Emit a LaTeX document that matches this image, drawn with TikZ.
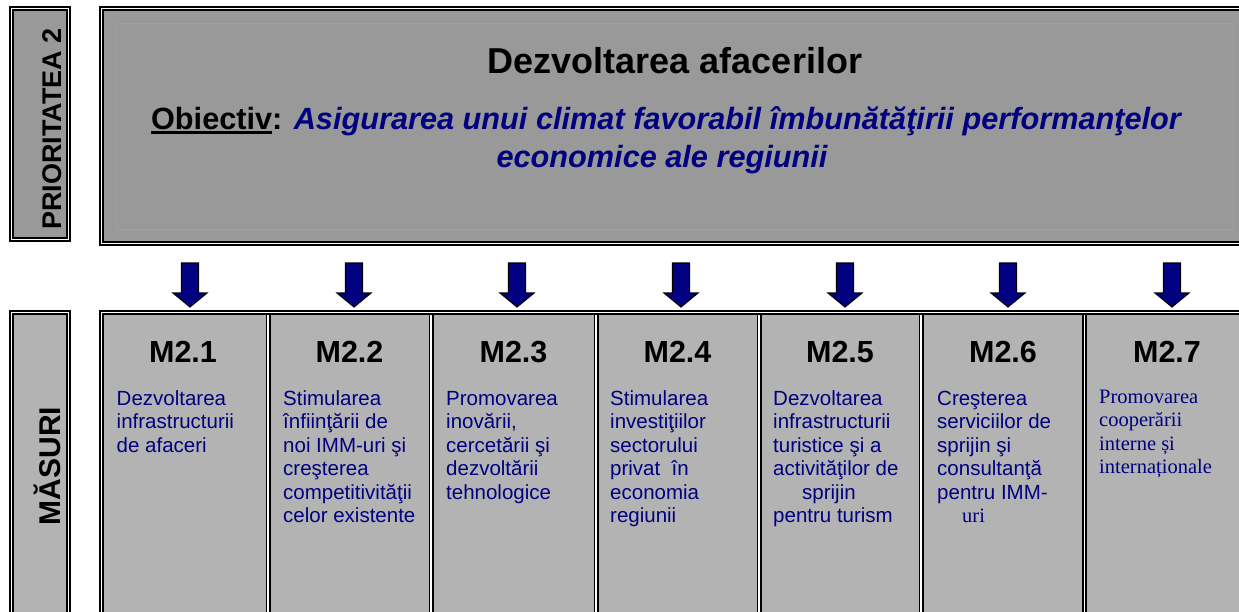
\documentclass[tikz,border=0pt]{standalone}
\usepackage{fontspec}
\setmainfont{Liberation Sans}
\newfontfamily\tnr{Liberation Serif}
\definecolor{hdrgray}{HTML}{999999}
\definecolor{mgray}{HTML}{B3B3B3}
\definecolor{navy}{HTML}{000080}
\definecolor{bevel}{HTML}{A0A0A0}
\newcommand{\myul}[1]{\setbox0\hbox{#1}\rlap{\rule[-4.5pt]{\wd0}{2.4pt}}\box0}
\newcommand{\mbody}[1]{\parbox[t]{160pt}{\fontsize{20.5}{23.5}\selectfont\raggedright #1}}
\begin{document}
\begin{tikzpicture}[x=1pt,y=-1pt,
  dbl/.style={draw=black, line width=1.8pt, double=white, double distance=1.4pt},
  hdrtext/.style={anchor=base, inner sep=0pt},
  mtitle/.style={anchor=base, inner sep=0pt, font=\bfseries\fontsize{30.5}{30.5}\selectfont},
  mtext/.style={anchor=base west, inner sep=0pt, text=navy},
  sidelabel/.style={anchor=base, rotate=90, inner sep=0pt},
  blockarrow/.style={fill=navy, draw=black, line width=1.1pt, line join=miter}
]
\useasboundingbox (0,0) rectangle (1239,611);
\fill[white] (0,0) rectangle (1239,611);
\clip (0,0) rectangle (1239,611);

% ---------- top band ----------
\node[draw=none, fill=hdrgray, minimum width=57.4pt, minimum height=231.4pt, inner sep=0pt] (prioBox) at (40,124) {};
\draw[dbl] (11.3,8.3) rectangle (68.7,239.7);
\node[sidelabel, font=\bfseries\fontsize{27}{27}\selectfont] (prio) at (61.7,129) {PRIORITATEA 2};

\node[fill=hdrgray, minimum width=1160pt, minimum height=235pt, inner sep=0pt] (hdr) at (681.3,125.8) {};
\draw[bevel, line width=0.7pt] (116,23.3) rectangle (1233,229.3);
\draw[dbl] (101.3,8.3) rectangle (1262,243.3);

\node[hdrtext, font=\bfseries\fontsize{36}{36}\selectfont] (title) at (675,73) {Dezvoltarea afacerilor};
\node[hdrtext, font=\bfseries\fontsize{30.7}{30.7}\selectfont] (obj1) at (666,129)
  {\myul{Obiectiv}: \textcolor{navy}{\itshape Asigurarea unui climat favorabil îmbunătăţirii performanţelor}};
\node[hdrtext, font=\bfseries\itshape\fontsize{30.7}{30.7}\selectfont, text=navy] (obj2) at (662,167)
  {economice ale regiunii};

% ---------- arrows ----------
\foreach \c in {190,354,517,681,845,1008,1172}{
  \draw[blockarrow] (\c-8.5,263) -- (\c+8.5,263) -- (\c+8.5,293) -- (\c+17,293)
    -- (\c,307) -- (\c-17,293) -- (\c-8.5,293) -- cycle;
}

% ---------- measures band ----------
\node[fill=mgray, minimum width=57.4pt, minimum height=330pt, inner sep=0pt] (masBox) at (40,477.7) {};
\draw[dbl] (11.3,312.7) rectangle (68.7,650);
\node[sidelabel, font=\bfseries\fontsize{30}{30}\selectfont] (masuri) at (60,466) {MĂSURI};

\node[fill=mgray, minimum width=1160pt, minimum height=330pt, inner sep=0pt] (row) at (681.3,477.7) {};
\foreach \s in {268,431,596,759,921,1084.5}{
  \draw[dbl] (\s,313) -- (\s,650);
}
\draw[dbl] (101.3,312.7) rectangle (1262,650);

\node[mtitle] (t1) at (183,362) {M2.1};
\node[mtitle] (t2) at (349.5,362) {M2.2};
\node[mtitle] (t3) at (513.5,362) {M2.3};
\node[mtitle] (t4) at (677.5,362) {M2.4};
\node[mtitle] (t5) at (840,362) {M2.5};
\node[mtitle] (t6) at (1003,362) {M2.6};
\node[mtitle] (t7) at (1167,362) {M2.7};

\node[mtext] (b1) at (116.5,405) {\mbody{Dezvoltarea\\infrastructurii\\de afaceri}};
\node[mtext] (b2) at (283,405) {\mbody{Stimularea\\înfiinţării de\\noi IMM-uri şi\\creşterea\\competitivităţii\\celor existente}};
\node[mtext] (b3) at (446,405) {\mbody{Promovarea\\inovării,\\cercetării şi\\dezvoltării\\tehnologice}};
\node[mtext] (b4) at (610,405) {\mbody{Stimularea\\investiţiilor\\sectorului\\privat\ \ în\\economia\\regiunii}};
\node[mtext] (b5) at (773,405) {\mbody{Dezvoltarea\\infrastructurii\\turistice şi a\\activităţilor de\\\hspace*{29pt}sprijin\\pentru turism}};
\node[mtext] (b6) at (937,405) {\mbody{Creşterea\\serviciilor de\\sprijin şi\\consultanţă\\pentru IMM-\\\hspace*{25pt}{\tnr uri}}};
\node[mtext] (b7) at (1099,403) {\mbody{\tnr Promovarea\\cooperării\\interne și\\internaționale}};
\end{tikzpicture}
\end{document}
